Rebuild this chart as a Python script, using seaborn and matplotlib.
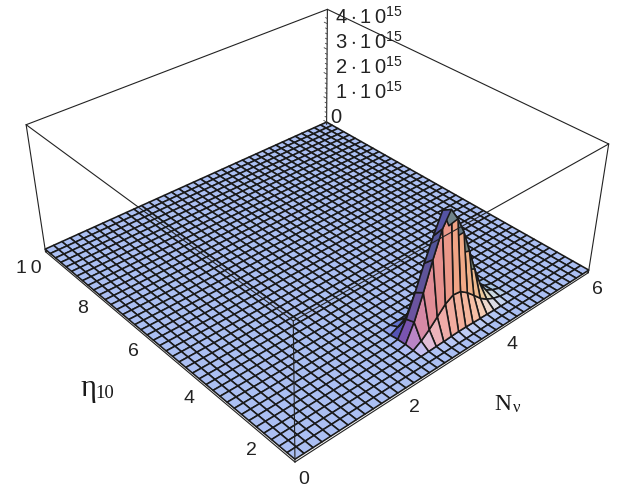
import matplotlib
matplotlib.use("Agg")
import matplotlib.pyplot as plt
import numpy as np
import seaborn as sns
from mpl_toolkits.mplot3d import proj3d

# values in units of 1e15
nv_start = 17
eta_rows = [2, 3, 4, 5, 6, 7]
row_base = [0.0, 0.01, 0.02, 0.03, 0.05, 0.06, 0.06, 0.05, 0.04, 0.03, 0.02, 0.01, 0.0]
row_front = [0.02, 0.2, 0.45, 0.75, 1.05, 1.22, 1.18, 0.98, 0.72, 0.45, 0.25, 0.12, 0.04]
row_ridge = [0.05, 0.7, 1.6, 2.6, 3.5, 4.0, 3.55, 2.95, 2.15, 1.35, 0.65, 0.25, 0.1]
row_back = [0.04, 0.62, 1.42, 2.3, 3.1, 3.82, 3.15, 2.6, 1.9, 1.15, 0.55, 0.2, 0.08]
row_tail = [0.0, 0.14, 0.3, 0.48, 0.65, 0.75, 0.62, 0.46, 0.3, 0.18, 0.09, 0.04, 0.02]
row_tail2 = [0.0, 0.01, 0.02, 0.04, 0.05, 0.06, 0.05, 0.04, 0.03, 0.02, 0.01, 0.0, 0.0]
nv_ticks = [0, 2, 4, 6]
eta_ticks = [2, 4, 6, 8, 10]
z_ticks = [0, 1, 2, 3, 4]
n_cells = 39

sns.set_theme(style="white")
plt.rcParams['mathtext.fontset'] = 'custom'
plt.rcParams['mathtext.rm'] = 'Liberation Sans'

nv = np.linspace(0, 6, n_cells + 1)
eta = np.linspace(1, 10, n_cells + 1)
X, Y = np.meshgrid(nv, eta)
Z = np.zeros_like(X)
for j, row in zip(eta_rows, [row_base, row_front, row_ridge, row_back, row_tail, row_tail2]):
    Z[j, nv_start:nv_start + len(row)] = row

zlo, zhi = -0.1, 4.55
elev, azim, focal, box_z, box_x = 33.956, -131.55, 0.398, 0.385, 0.992
fig = plt.figure(figsize=(6.18, 4.89), dpi=100)
ax = fig.add_axes([22.7/618, -3.4/489, 566.7/618, 566.7/489], projection='3d', computed_zorder=False)
ax.set_xlim(0, 6); ax.set_ylim(1, 10); ax.set_zlim(zlo, zhi)
ax.set_axis_off()
ax.view_init(elev, azim)
ax.set_proj_type('persp', focal_length=focal)
ax.set_box_aspect((box_x, 1, box_z))

corners = [(0,1,zlo),(6,1,zlo),(0,10,zlo),(6,10,zlo),(0,1,zhi),(6,1,zhi),(0,10,zhi),(6,10,zhi)]

# lighting, same three coloured lights as the original renderer
el, az = np.radians(elev), np.radians(azim)
toward = np.array([np.cos(el)*np.cos(az), np.cos(el)*np.sin(az), np.sin(el)])
right = np.cross([0,0,1], toward); right /= np.linalg.norm(right)
up = np.cross(toward, right)
scale = np.array([box_x/6, 1/9, box_z/(zhi-zlo)])
Xs, Ys, Zs = X*scale[0], Y*scale[1], Z*scale[2]
u = np.stack([Xs[1:,1:]-Xs[:-1,:-1], Ys[1:,1:]-Ys[:-1,:-1], Zs[1:,1:]-Zs[:-1,:-1]], -1)
v = np.stack([Xs[:-1,1:]-Xs[1:,:-1], Ys[:-1,1:]-Ys[1:,:-1], Zs[:-1,1:]-Zs[1:,:-1]], -1)
n = np.cross(v, u)
n = n/np.linalg.norm(n, axis=-1, keepdims=True)
n = np.where(n[...,2:]<0, -n, n)
nr, nu, nt = n@right, n@up, n@toward
dr = (nr+nt)/np.sqrt(2)
dg = np.maximum((nr+nu+nt)/np.sqrt(3), 0.1)
db = np.clip((nu+nt)/np.sqrt(2), 0, 1)
fc = np.stack([0.48+0.48*dr, 0.27+0.6*dg, 0.38+0.58*db, np.ones_like(dr)], -1)
fc = np.clip(fc, 0, 1)

surf = ax.plot_surface(X, Y, Z, facecolors=fc, edgecolor='k', linewidth=1.15, rstride=1, cstride=1, shade=False, antialiased=True, zorder=1)
surf.set_clip_on(False)

def edge(a, b, lw=0.8, c='#222222', zo=3):
    for l in ax.plot([a[0],b[0]],[a[1],b[1]],[a[2],b[2]], color=c, lw=lw, zorder=zo):
        l.set_clip_on(False)

for a,b in [(0,1),(0,2),(1,3),(2,3),(4,5),(4,6),(5,7),(6,7),(0,4),(1,5),(2,6),(3,7)]:
    zo = 0 if (a,b) in [(1,3),(2,3)] else 3
    edge(corners[a], corners[b], zo=zo)

M = ax.get_proj()
def label(x, y, z, txt, dx, dy, size=14, **kw):
    tx, ty, _ = proj3d.proj_transform(x, y, z, M)
    return ax.annotate(txt, (tx, ty), xytext=(dx*0.72, -dy*0.72), textcoords='offset points',
                       annotation_clip=False, fontsize=size, color='#222222', family='Liberation Sans', va='center', **kw)

for t in z_ticks:
    s = r'$%d\cdot 1\,0^{15}$' % t if t else '0'
    label(6, 10, t, s, 8 if t else 4, -8 if t else -6, size=14.5, ha='left')

for z in np.arange(0, 4.4, 0.2):
    edge((6,10,z),(6,10.12 if abs(z-round(z))<1e-6 else 10.07,z), lw=0.6, c='#444444')

for t in nv_ticks:
    label(t, 1, zlo, str(t), 9, 16, ha='center')
for t in eta_ticks:
    label(0, t, zlo, '1\u20090' if t == 10 else str(t), -17 if t == 10 else -10, 16, ha='center')

def px(x, y):
    return x/618, 1-y/489
fig.text(*px(88, 389), 'η', family='Liberation Serif', fontsize=22, ha='center', va='center', color='k')
fig.text(*px(105, 393), '10', family='Liberation Serif', fontsize=13.5, ha='center', va='center', color='k')
fig.text(*px(503, 404), 'N', family='Liberation Serif', fontsize=17, ha='center', va='center', color='k')
fig.text(*px(517, 408), 'ν', family='Liberation Serif', fontsize=12, ha='center', va='center', color='k')
fig.savefig('out.png', dpi=100)
